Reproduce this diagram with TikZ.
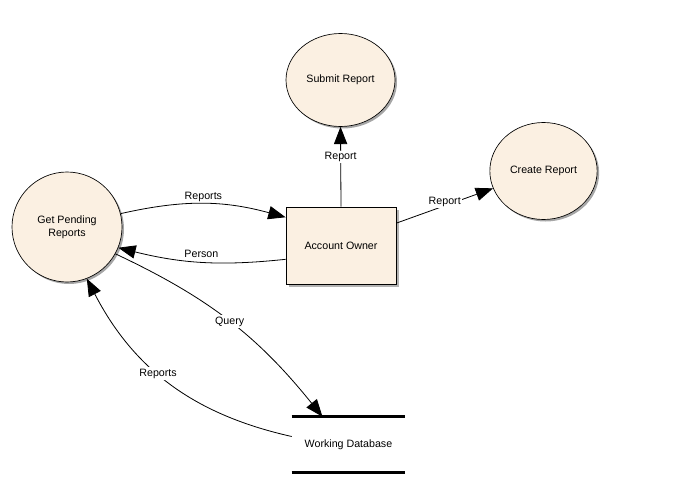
\documentclass[tikz,border=0pt]{standalone}
\usepackage{fontspec}
\setmainfont{Liberation Sans}
\usetikzlibrary{shapes.geometric, shadows, arrows.meta}

\definecolor{procfill}{RGB}{251,240,226}
\tikzset{
	every node/.style={font=\fontsize{8}{9.5}\selectfont},
	process/.style={ellipse,draw,fill=procfill,line width=0.5pt,align=center,
		drop shadow={shadow xshift=1.5pt,shadow yshift=-1.5pt,fill=black!35,opacity=1}},
	entity/.style={rectangle,draw,fill=procfill,line width=0.6pt,
		drop shadow={shadow xshift=2.5pt,shadow yshift=-2.5pt,fill=black!30,opacity=1}},
	flow/.style={line width=0.6pt,-{Triangle[length=13pt,width=10pt]}},
	flowlabel/.style={fill=white,inner sep=1pt},
	storeline/.style={line width=2.2pt}
}

\begin{document}
\begin{tikzpicture}[x=0.75pt,y=-0.75pt]
					\useasboundingbox (0,0) rectangle (685,481);

					%% processes
					\node[process,minimum width=81.75pt,minimum height=69.75pt] (submit) at (340.5,80) {Submit Report};
					\node[process,minimum width=80.25pt,minimum height=72.75pt] (create) at (543.5,171) {Create Report};
					\node[process,minimum width=82.5pt,minimum height=82.5pt] (pending) at (67,227) {Get Pending\\Reports};

					%% entity and store
					\node[entity,minimum width=82.5pt,minimum height=57.75pt] (owner) at (341,245.5) {Account Owner};
					\node[minimum width=84.75pt,minimum height=41.25pt] (store) at (348.5,444.5) {Working Database};
					\draw[storeline] (store.north west) -- (store.north east);
					\draw[storeline] (store.south west) -- (store.south east);

					%% flows
					\draw[flow] (owner.north) -- node[flowlabel,pos=0.62] {Report} (submit.south);
					\draw[flow] (owner.22) -- node[flowlabel,midway,yshift=3pt] {Report} (create.199);
					\draw[flow] (pending.14) to[bend left=14] node[above,inner sep=1.5pt] {Reports} (owner.153);
					\draw[flow] (owner.194) to[bend left=10] node[above] {Person} (pending.-22);
					\draw[flow] (pending.-29) to[bend left=13] node[flowlabel] {Query} ([xshift=-19.5pt]store.north);
					\draw[flow] ([yshift=6pt]store.west) to[bend left=25] node[flowlabel,pos=0.56] {Reports} (pending.-69);
				\end{tikzpicture}
\end{document}
